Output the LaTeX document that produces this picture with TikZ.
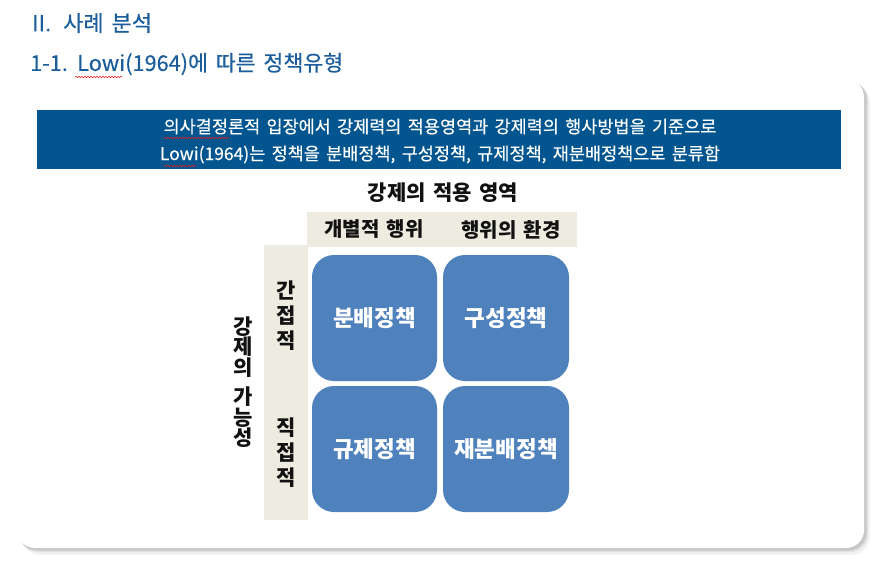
\documentclass[tikz,border=0pt]{standalone}
\usepackage{fontspec}
\setmainfont[WordSpace=1.6]{Noto Sans CJK KR}
\usetikzlibrary{decorations.pathmorphing}

\definecolor{titleblue}{HTML}{1B5E9B}
\definecolor{bannerblue}{HTML}{02558F}
\definecolor{cellblue}{HTML}{4F81BD}
\definecolor{tan}{HTML}{EEECE1}
\definecolor{ink}{HTML}{111111}
\definecolor{spellred}{HTML}{E02020}

\begin{document}
\begin{tikzpicture}[
  x=1pt,
  y=-1pt,
  title/.style={font=\fontsize{22}{24}\selectfont\addfontfeature{FakeBold=0.4},
    text=titleblue,anchor=west,inner sep=0pt},
  banner/.style={font=\fontsize{17.5}{27}\selectfont\addfontfeature{FakeBold=0.3},
    text=white,align=center},
  head/.style={font=\fontsize{21}{24}\selectfont\bfseries,text=ink},
  vhead/.style={font=\fontsize{21}{25}\selectfont\bfseries,text=ink,align=center},
  policy/.style={draw=none,fill=cellblue,rounded corners=22pt,minimum width=125pt,
    minimum height=126pt,text=white,font=\fontsize{22.5}{24}\selectfont\bfseries},
  squiggle/.style={draw=spellred,line width=.5pt,
    decorate,decoration={snake,amplitude=.8pt,segment length=3pt}}
]
\useasboundingbox (0,0) rectangle (883,563);

% headings
\node[title] (sec) at (32,23) {II.\hspace{12pt}사례 분석};
\node[title,font=\fontsize{21.7}{24}\selectfont\addfontfeature{FakeBold=0.4}] (sub)
  at (30,64) {1-1. Lowi(1964)에 따른 정책유형};
\draw[squiggle] (75,77) -- (122,77);

% card with soft shadow
\fill[black!5,rounded corners=19pt] (21,84) rectangle (870,555);
\fill[black!12,rounded corners=18pt] (20,82) rectangle (868,552);
\fill[black!22,rounded corners=18pt] (19,81) rectangle (866.5,550.5);
\fill[white,rounded corners=18pt] (17,79) rectangle (864,548);

\node[fill=bannerblue,minimum width=804pt,minimum height=59pt,inner sep=0pt]
  (ban) at (439,139.5) {};
\node[banner] (bantxt) at (440,141)
  {의사결정론적 입장에서 강제력의 적용영역과 강제력의 행사방법을 기준으로\\
   Lowi(1964)는 정책을 분배정책, 구성정책, 규제정책, 재분배정책으로 분류함};
\draw[squiggle] (164,138) -- (229,138);
\draw[squiggle] (164,166) -- (196,166);

% matrix labels
\node[head] (area) at (443,193) {강제의 적용 영역};
\fill[tan] (307,212) rectangle (577,247);
\fill[tan] (264,245) rectangle (308,520);
\node[head,font=\fontsize{20}{24}\selectfont\bfseries] (indiv) at (374,229.5) {개별적 행위};
\node[head,font=\fontsize{20}{24}\selectfont\bfseries] (envir) at (511,229.5) {행위의 환경};
\node[vhead] (indir) at (286,316) {간\\접\\적};
\node[vhead] (dir) at (286,453) {직\\접\\적};
\node[vhead,font=\fontsize{21}{20.5}\selectfont\bfseries] (poss) at (243,382)
  {강\\제\\의\\[9pt]가\\능\\성};

% policy cells
\node[policy] (distr) at (374.5,318) {분배정책};
\node[policy,minimum width=126pt] (const) at (506,318) {구성정책};
\node[policy] (regul) at (374.5,449) {규제정책};
\node[policy,minimum width=126pt] (redis) at (506,449) {재분배정책};
\end{tikzpicture}
\end{document}
